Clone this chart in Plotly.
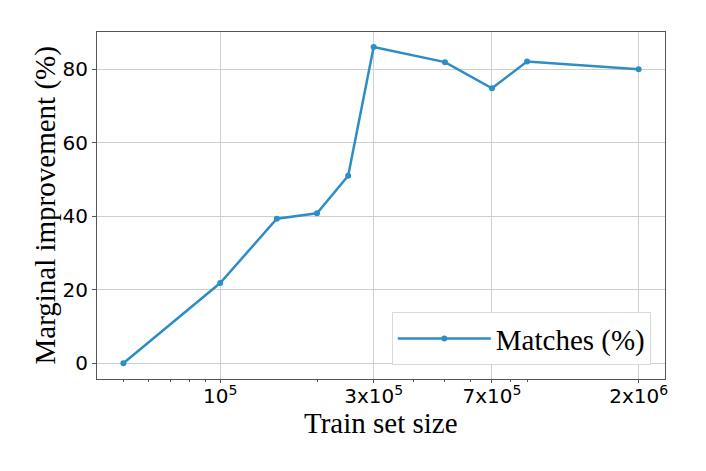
"""Marginal improvement vs. train set size (log x axis)."""

import plotly.graph_objects as go

train_size = [5e4, 1e5, 1.5e5, 2e5, 2.5e5, 3e5, 5e5, 7e5, 9e5, 2e6]
matches_pct = [0.0, 21.8, 39.3, 40.8, 51.0, 86.0, 81.9, 74.8, 82.1, 80.0]

x_tickvals = [1e5, 3e5, 7e5, 2e6]
x_ticktext = ["10<sup>5</sup>", "3x10<sup>5</sup>", "7x10<sup>5</sup>", "2x10<sup>6</sup>"]
x_minor = [5e4, 6e4, 7e4, 8e4, 9e4, 2e5, 4e5, 5e5, 6e5, 8e5, 9e5]
y_tickvals = [0, 20, 40, 60, 80]

LINE_COLOR = "#2E8DC5"
SERIF = "Liberation Serif, Times New Roman, serif"
SANS = "DejaVu Sans, sans-serif"
title_font = dict(family=SERIF, size=29, color="black")

fig = go.Figure()
fig.add_trace(go.Scatter(
    x=train_size, y=matches_pct, mode="lines+markers",
    name="Matches (%)",
    line=dict(color=LINE_COLOR, width=2.5),
    marker=dict(color=LINE_COLOR, size=6),
))

# page body has an 8px margin, so the figure is shrunk to fit the window
fig.update_layout(
    width=698, height=463,
    margin=dict(l=89, r=41, t=24, b=92),
    paper_bgcolor="white", plot_bgcolor="white",
    showlegend=True,
    legend=dict(
        x=0.975, y=0.04, xanchor="right", yanchor="bottom",
        bgcolor="white", bordercolor="#d9d9d9", borderwidth=1,
        font=title_font,
        itemwidth=93,
    ),
)
fig.update_xaxes(
    type="log", range=[4.617, 6.383],
    tickvals=x_tickvals, ticktext=x_ticktext,
    tickfont=dict(family=SANS, size=20, color="black"),
    ticks="outside", ticklen=3, tickcolor="#555",
    ticklabelstandoff=-4,
    showgrid=True, gridcolor="#cfcfcf", gridwidth=1,
    minor=dict(tickvals=x_minor, ticks="outside", ticklen=2, tickcolor="#555", showgrid=False),
    showline=True, linecolor="#555", linewidth=1.2, mirror=True,
    zeroline=False,
)
fig.update_yaxes(
    range=[-4.3, 90.1],
    tickvals=y_tickvals,
    tickfont=dict(family=SANS, size=20, color="black"),
    ticks="outside", ticklen=4, tickcolor="#555",
    showgrid=True, gridcolor="#cfcfcf", gridwidth=1,
    showline=True, linecolor="#555", linewidth=1.2, mirror=True,
    zeroline=False,
)

# axis titles as annotations so they sit close to the tick labels
fig.add_annotation(
    text="Train set size", xref="paper", yref="paper",
    x=0.5, y=-0.127, xanchor="center", yanchor="middle",
    showarrow=False, font=title_font,
)
fig.add_annotation(
    text="Marginal improvement (%)", xref="paper", yref="paper",
    x=-0.0915, y=0.5, xanchor="center", yanchor="middle", textangle=-90,
    showarrow=False, font=title_font,
)

fig.write_html("out.html")
